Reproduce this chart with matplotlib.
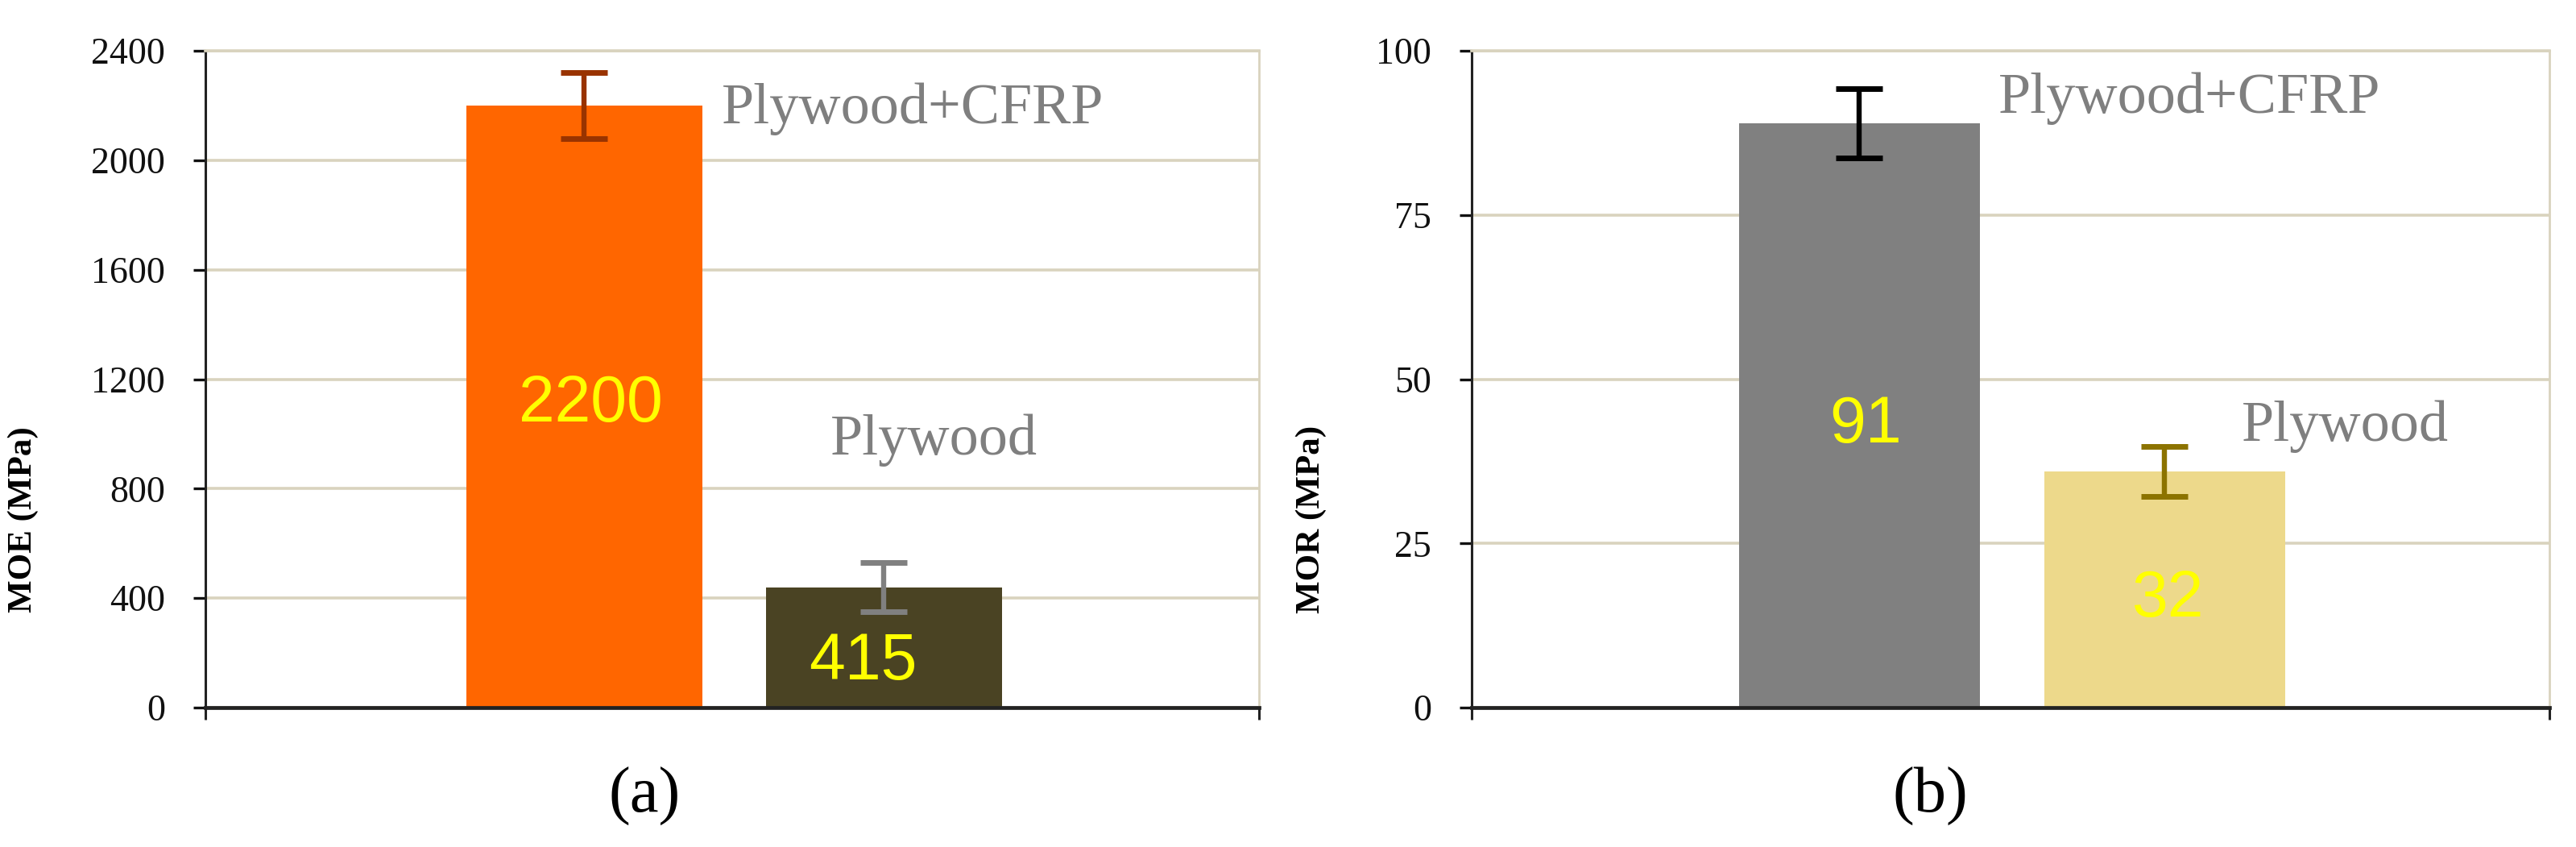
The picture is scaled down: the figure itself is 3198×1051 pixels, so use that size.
import matplotlib.pyplot as plt
import numpy as np

# panel (a): MOE
moe_names = ['Plywood+CFRP', 'Plywood']
moe_vals = [2200, 440]
moe_err = [122, 90]
moe_labels = ['2200', '415']
moe_label_y = [1107, 165]
moe_colors = ['#FF6600', '#4A4323']
moe_ecolors = ['#993300', '#808080']
moe_ticks = [0, 400, 800, 1200, 1600, 2000, 2400]

# panel (b): MOR
mor_names = ['Plywood+CFRP', 'Plywood']
mor_vals = [89, 36]
mor_err = [5.3, 3.8]
mor_labels = ['91', '32']
mor_label_y = [42.9, 16.5]
mor_colors = ['#808080', '#EDD98B']
mor_ecolors = ['#000000', '#8C7300']
mor_ticks = [0, 25, 50, 75, 100]

serif = 'Liberation Serif'
sans = 'Liberation Sans'
grid_c = '#D9D3BE'
name_c = '#7F7F7F'

fig = plt.figure(figsize=(31.98, 10.51), dpi=100)
bottom, height = 0.1646, 0.7754
ax1 = fig.add_axes([0.0797, bottom, 0.4090, height])
ax2 = fig.add_axes([0.5713, bottom, 0.4184, height])


def panel(ax, vals, err, colors, ecolors, labels, label_y, label_dx, ticks,
          names, name_pos, xlim, width, ylabel, label_x):
    x = np.arange(len(vals))
    ax.set_axisbelow(True)
    ax.bar(x, vals, width=width, color=colors, zorder=2)
    for i in range(len(vals)):
        ax.errorbar(x[i], vals[i], yerr=err[i], fmt='none', ecolor=ecolors[i],
                    elinewidth=4.6, capsize=21, capthick=5, zorder=3)
        ax.text(x[i] + label_dx[i], label_y[i], labels[i], color='#FFFF00',
                fontsize=58, family=sans, ha='center', va='center', zorder=4)
        ax.text(name_pos[i][0], name_pos[i][1], names[i], color=name_c,
                fontsize=52, family=serif, ha='left', va='baseline')
    ax.set_xlim(*xlim)
    ax.set_ylim(ticks[0], ticks[-1])
    ax.set_yticks(ticks)
    ax.set_yticklabels([str(t) for t in ticks], family=serif, fontsize=33)
    ax.set_xticks(list(xlim))
    ax.set_xticklabels([])
    ax.yaxis.grid(True, color=grid_c, linewidth=2.6)
    ax.tick_params(axis='y', direction='out', length=11, width=2.4, pad=25,
                   colors='#111111')
    ax.tick_params(axis='x', direction='out', length=11, width=2.2,
                   colors='#222222')
    ax.spines['left'].set_linewidth(2.2)
    ax.spines['left'].set_color('#222222')
    ax.spines['bottom'].set_linewidth(3.4)
    ax.spines['bottom'].set_color('#222222')
    ax.spines['bottom'].set_zorder(5)
    ax.spines['top'].set_color(grid_c)
    ax.spines['top'].set_linewidth(2.6)
    ax.spines['right'].set_color(grid_c)
    ax.spines['right'].set_linewidth(2.0)
    ax.set_ylabel(ylabel, family=serif, fontsize=31, fontweight='bold')
    ax.yaxis.set_label_coords(label_x, 0.286)


panel(ax1, moe_vals, moe_err, moe_colors, moe_ecolors, moe_labels, moe_label_y,
      [0.02, -0.07], moe_ticks, moe_names, [(0.458, 2135), (0.821, 925)],
      (-1.265, 2.251), 0.788, 'MOE (MPa)', -0.158)
panel(ax2, mor_vals, mor_err, mor_colors, mor_ecolors, mor_labels, mor_label_y,
      [0.02, 0.01], mor_ticks, mor_names, [(0.455, 90.6), (1.252, 40.6)],
      (-1.270, 2.260), 0.789, 'MOR (MPa)', -0.1345)

fig.text(0.2502, 0.060, '(a)', family=serif, fontsize=58, ha='center', va='center')
fig.text(0.7492, 0.060, '(b)', family=serif, fontsize=58, ha='center', va='center')

fig.savefig('out.png', dpi=100, facecolor='white')
